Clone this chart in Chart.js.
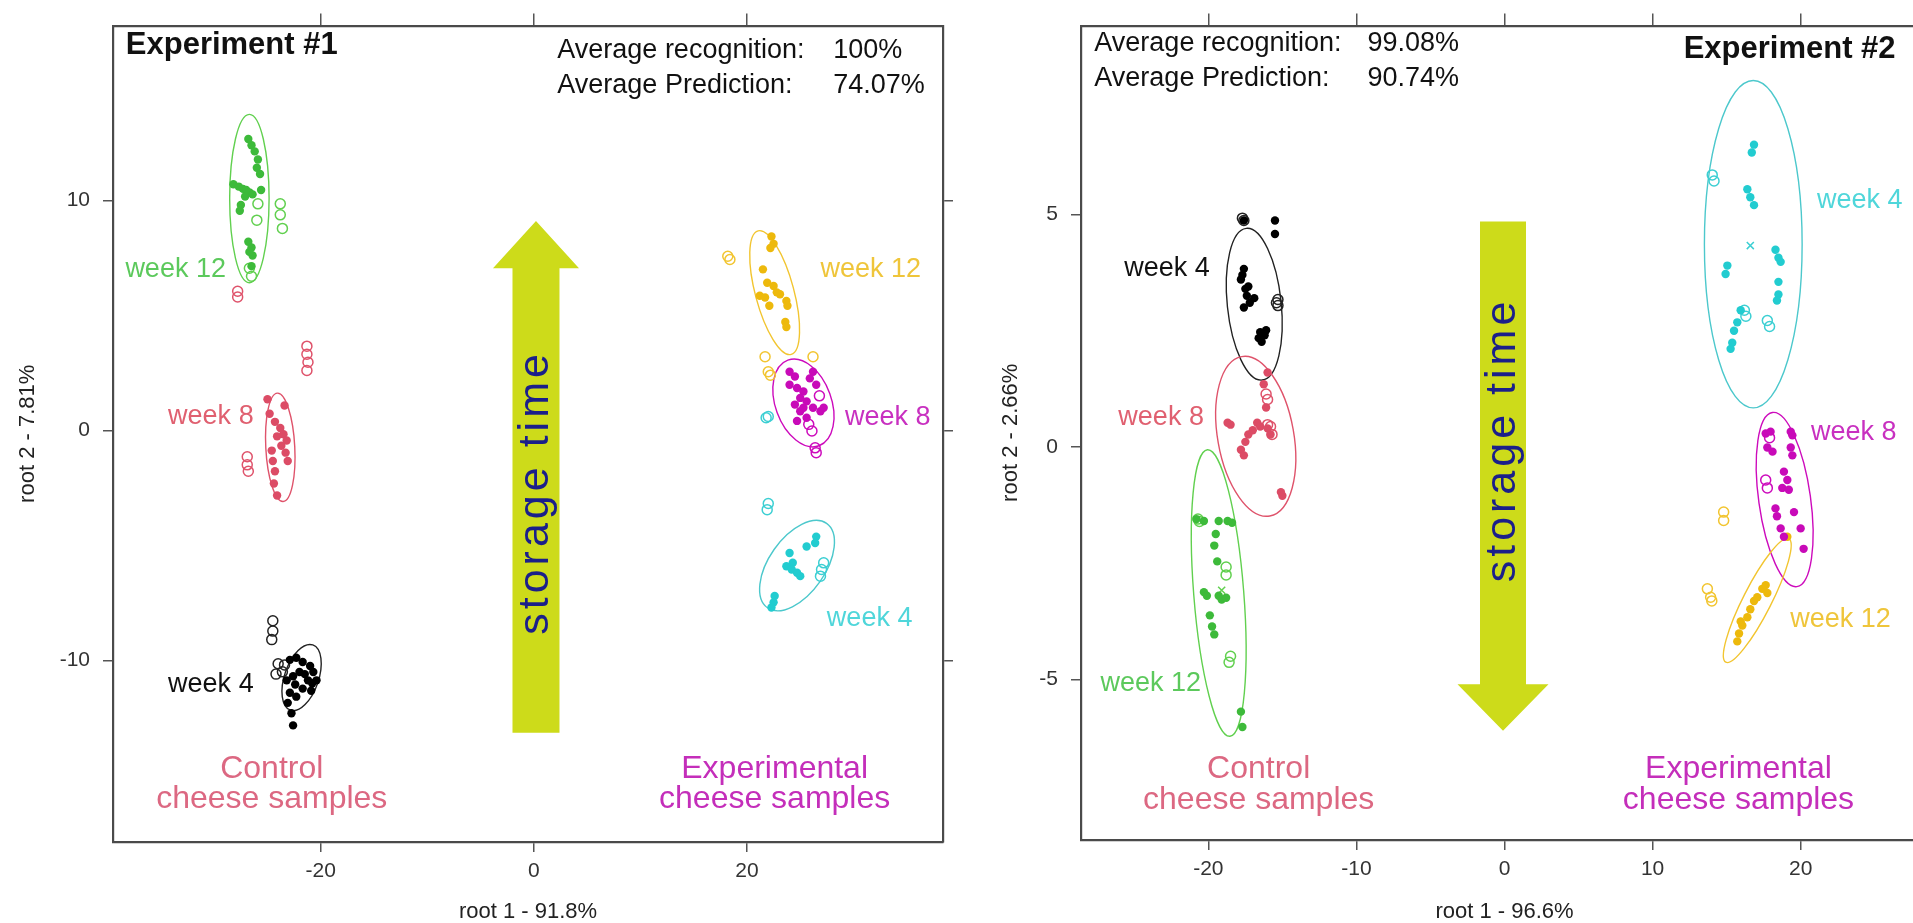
<!DOCTYPE html>
<html>
<head>
<meta charset="utf-8">
<title>Cheese samples – discriminant analysis</title>
<script src="https://cdn.jsdelivr.net/npm/chart.js@4.4.1/dist/chart.umd.min.js"></script>
<style>
  html, body { margin: 0; padding: 0; background: #fff; overflow: hidden; width: 1913px; height: 923px; }
  canvas { position: absolute; top: 0; }
  #exp1 { left: 0; }
  #exp2 { left: 960px; }
</style>
</head>
<body>
<canvas id="exp1" width="960" height="923"></canvas>
<canvas id="exp2" width="985" height="923"></canvas>
<script>
// ---------- Experiment #1 : scores [root 1, root 2] ----------
// filled = training samples, open = predicted samples
const e1W12CtrlFit = [[-26.8,12.67],[-26.5,12.4],[-26.2,12.13],[-25.9,11.78],[-26.0,11.42],[-25.7,11.15],[-28.2,10.7],[-27.7,10.6],[-27.3,10.5],[-27.0,10.45],[-26.7,10.35],[-26.4,10.26],[-25.6,10.45],[-27.1,10.17],[-27.5,9.8],[-27.6,9.55],[-26.8,8.2],[-26.5,7.95],[-26.4,7.6],[-26.7,7.76],[-26.5,7.14]];
const e1W12CtrlPred = [[-23.8,9.85],[-23.8,9.37],[-23.6,8.78],[-25.9,9.85],[-26.0,9.14],[-26.7,7.05],[-26.5,6.7]];
const e1W8CtrlFit = [[-25.0,1.35],[-23.4,1.08],[-24.8,0.72],[-24.3,0.37],[-23.8,0.10],[-23.5,-0.17],[-23.2,-0.44],[-24.1,-0.26],[-23.7,-0.67],[-23.3,-0.97],[-23.1,-1.33],[-24.6,-0.88],[-24.5,-1.33],[-24.3,-1.78],[-24.4,-2.31],[-24.1,-2.83]];
const e1W8CtrlPred = [[-26.9,-1.15],[-26.9,-1.5],[-26.8,-1.78],[-21.3,3.66],[-21.3,3.31],[-21.2,2.96],[-21.3,2.6],[-27.8,6.05],[-27.8,5.8]];
const e1W4CtrlFit = [[-22.9,-9.98],[-22.3,-9.89],[-21.7,-10.07],[-21.0,-10.25],[-20.7,-10.51],[-20.4,-10.87],[-21.2,-10.87],[-22.0,-10.51],[-22.6,-10.69],[-23.2,-10.87],[-22.4,-11.05],[-21.7,-11.23],[-20.9,-11.32],[-22.9,-11.41],[-22.3,-11.58],[-23.1,-11.85],[-22.75,-12.3],[-22.6,-12.83],[-21.5,-10.6],[-20.8,-11.0]];
const e1W4CtrlPred = [[-24.5,-8.28],[-24.5,-8.73],[-24.6,-9.1],[-24.0,-10.15],[-23.6,-10.5],[-23.4,-10.2],[-24.2,-10.6]];
const e1W12ExpFit = [[22.3,8.43],[22.5,8.11],[22.2,7.93],[21.5,7.0],[21.9,6.42],[22.5,6.28],[21.2,5.85],[21.7,5.78],[23.1,5.92],[23.7,5.63],[23.8,5.42],[22.1,5.42],[22.8,6.0],[23.6,4.71],[23.7,4.49]];
const e1W12ExpPred = [[18.4,7.43],[18.2,7.57],[21.7,3.2],[22.0,2.55],[22.2,2.4],[26.2,3.2]];
const e1W8ExpFit = [[24.0,2.55],[24.5,2.34],[24.0,1.98],[24.7,1.84],[25.3,1.69],[25.9,2.26],[26.2,2.55],[26.5,1.98],[25.0,1.41],[25.6,1.26],[24.5,1.12],[25.0,0.83],[26.2,0.98],[26.9,0.83],[27.2,0.98],[24.7,0.41],[25.6,0.55],[25.3,0.98]];
const e1W8ExpPred = [[25.8,0.26],[26.1,-0.03],[26.4,-0.76],[26.5,-0.97],[26.8,1.5]];
const e1W4ExpFit = [[26.5,-4.62],[26.4,-4.9],[25.6,-5.05],[24.0,-5.33],[24.3,-5.76],[23.7,-5.91],[24.2,-6.05],[24.7,-6.19],[25.0,-6.34],[22.6,-7.2],[22.5,-7.48],[22.3,-7.7]];
const e1W4ExpPred = [[22.0,0.6],[21.8,0.55],[22.0,-3.18],[21.9,-3.45],[27.2,-5.76],[27.0,-6.05],[26.9,-6.34]];
// group ellipses: [centre root 1, centre root 2, half-width (root 1), half-height (root 2), tilt in degrees]
const e1Ellipses = {
  w12Ctrl: [-26.7, 10.08, 1.85, 3.66, 0],
  w8Ctrl:  [-23.8, -0.74, 1.36, 2.36, -3],
  w4Ctrl:  [-21.8, -10.75, 1.6, 1.5, 19],
  w12Exp:  [22.6, 5.99, 1.81, 2.78, -15],
  w8Exp:   [25.3, 1.19, 2.63, 1.98, -20],
  w4Exp:   [24.7, -5.88, 2.63, 2.24, 35]
};
const e1XTicks = [-20, 0, 20];
const e1YTicks = [-10, 0, 10];

// ---------- Experiment #2 ----------
const e2W4CtrlFit = [[-17.6,4.87],[-15.5,4.87],[-15.5,4.58],[-17.6,3.83],[-17.8,3.6],[-17.5,3.4],[-17.4,3.25],[-17.2,3.1],[-17.6,3.0],[-16.9,3.2],[-16.6,2.34],[-16.5,2.47],[-16.1,2.51],[-16.4,2.26],[-16.2,2.4],[-17.7,3.7],[-17.3,3.45]];
const e2W4CtrlPred = [[-17.6,4.87],[-17.7,4.92],[-15.3,3.17],[-15.3,3.04],[-15.4,3.1]];
const e2W8CtrlFit = [[-16.0,1.6],[-16.26,1.35],[-16.1,0.85],[-18.7,0.52],[-18.5,0.48],[-16.7,0.52],[-17.0,0.36],[-17.3,0.27],[-17.5,0.11],[-17.8,-0.06],[-17.6,-0.18],[-16.5,0.44],[-16.0,0.4],[-15.8,0.27],[-15.1,-0.97],[-15.0,-1.05]];
const e2W8CtrlPred = [[-16.1,1.14],[-16.0,1.02],[-16.0,0.48],[-15.8,0.44],[-15.7,0.27]];
const e2W12CtrlFit = [[-20.8,-1.55],[-20.3,-1.59],[-19.3,-1.59],[-18.7,-1.59],[-18.4,-1.63],[-19.5,-1.87],[-19.6,-2.12],[-19.4,-2.46],[-20.3,-3.12],[-20.1,-3.2],[-19.3,-3.2],[-19.1,-3.28],[-18.8,-3.24],[-19.9,-3.62],[-19.75,-3.86],[-19.6,-4.03],[-17.8,-5.69],[-17.7,-6.02]];
const e2W12CtrlPred = [[-20.7,-1.55],[-20.6,-1.6],[-18.8,-2.58],[-18.8,-2.75],[-18.5,-4.5],[-18.6,-4.63]];
const e2W4ExpFit = [[16.85,6.5],[16.7,6.33],[16.4,5.54],[16.6,5.37],[16.85,5.2],[18.3,4.24],[18.5,4.07],[18.65,3.98],[15.05,3.9],[14.93,3.72],[18.5,3.55],[18.5,3.28],[18.4,3.15],[15.95,2.94],[15.72,2.68],[15.5,2.5],[15.38,2.24],[15.27,2.11]];
const e2W4ExpPred = [[14.03,5.85],[14.15,5.72],[16.2,2.94],[16.3,2.81],[17.75,2.72],[17.9,2.59]];
const e2W8ExpFit = [[17.64,0.29],[17.97,0.33],[17.75,-0.01],[18.1,-0.1],[19.33,0.33],[19.44,0.25],[19.33,-0.01],[19.44,-0.18],[18.87,-0.53],[19.1,-0.71],[18.76,-0.88],[19.2,-0.92],[18.3,-1.32],[18.4,-1.49],[19.55,-1.4],[18.65,-1.75],[20.0,-1.75],[20.2,-2.19],[18.87,-1.93]];
const e2W8ExpPred = [[17.64,-0.71],[17.75,-0.88],[17.9,0.2]];
const e2W12ExpFit = [[17.41,-3.05],[17.64,-2.97],[17.07,-3.23],[16.85,-3.31],[16.6,-3.49],[16.4,-3.66],[16.06,-3.84],[15.84,-4.01],[15.72,-4.18],[15.95,-3.75],[17.75,-3.14],[19.1,-1.93]];
const e2W12ExpPred = [[14.8,-1.4],[14.8,-1.58],[13.7,-3.05],[13.92,-3.23],[14.0,-3.31]];
const e2Centroids = { w4Exp: [16.6, 4.33], w12Ctrl: [-19.1, -3.08] };
const e2Ellipses = {
  w4Ctrl:  [-16.9, 3.07, 1.82, 1.64, -6],
  w8Ctrl:  [-16.8, 0.23, 2.57, 1.74, -10],
  w12Ctrl: [-19.3, -3.14, 1.69, 3.09, -4.5],
  w4Exp:   [16.8, 4.36, 3.3, 3.52, 0],
  w8Exp:   [18.92, -1.13, 1.75, 1.89, -8],
  w12Exp:  [17.07, -3.3, 0.95, 1.49, 27]
};
const e2XTicks = [-20, -10, 0, 10, 20];
const e2YTicks = [-5, 0, 5];

// ---------- styling ----------
const FONT = '"Liberation Sans", Arial, Helvetica, sans-serif';
const COL = {
  black: '#000000', red: '#DC4C66', green: '#3DBA3A', cyan: '#22CCD0', magenta: '#C80AB8', yellow: '#EDB90C'
};
const RING = {
  black: '#222222', red: '#DF536B', green: '#61D04F', cyan: '#3CCFD3', magenta: '#CD0BBC', yellow: '#F2C530'
};
const LABEL = {
  black: '#111111', red: '#E06070', green: '#5CC95C', cyan: '#4FD6DA', magenta: '#C830C0', yellow: '#EFC53A',
  control: '#DC6882', experimental: '#C42EBA'
};

const pts = arr => arr.map(p => ({ x: p[0], y: p[1] }));
const filled = (arr, c) => ({ data: pts(arr), pointRadius: 4.2, pointBackgroundColor: c, pointBorderWidth: 0, pointHoverRadius: 4.2 });
const open = (arr, c) => ({ data: pts(arr), pointRadius: 5, pointBackgroundColor: 'rgba(0,0,0,0)', pointBorderColor: c, pointBorderWidth: 1.5, pointHoverRadius: 5 });
const cross = (p, c) => ({ data: pts([p]), pointStyle: 'crossRot', pointRadius: 5, pointBorderColor: c, pointBorderWidth: 1.5 });

// ellipses, arrow and free text are drawn in data units through the chart scales
function overlayPlugin(ellipses, arrow, texts) {
  return {
    id: 'overlay',
    beforeDatasetsDraw(chart) {
      const { ctx, chartArea: a, scales: { x, y } } = chart;
      ctx.save();
      ctx.beginPath(); ctx.rect(a.left, a.top, a.right - a.left, a.bottom - a.top); ctx.clip();
      // storage-time arrow
      const cx = x.getPixelForValue(arrow.at);
      const yt = y.getPixelForValue(arrow.tail), yb = y.getPixelForValue(arrow.base), yp = y.getPixelForValue(arrow.tip);
      ctx.fillStyle = '#CDDB1A';
      ctx.beginPath();
      ctx.moveTo(cx - arrow.shaft, yt); ctx.lineTo(cx - arrow.shaft, yb); ctx.lineTo(cx - arrow.head, yb);
      ctx.lineTo(cx, yp); ctx.lineTo(cx + arrow.head, yb); ctx.lineTo(cx + arrow.shaft, yb); ctx.lineTo(cx + arrow.shaft, yt);
      ctx.closePath(); ctx.fill();
      // group ellipses
      ctx.lineWidth = 1.4;
      for (const e of ellipses) {
        const [ex, ey, rx, ry, tilt] = e.p;
        const px = x.getPixelForValue(ex), py = y.getPixelForValue(ey);
        const rpx = Math.abs(x.getPixelForValue(ex + rx) - px), rpy = Math.abs(y.getPixelForValue(ey + ry) - py);
        ctx.strokeStyle = e.c;
        ctx.beginPath(); ctx.ellipse(px, py, rpx, rpy, tilt * Math.PI / 180, 0, 2 * Math.PI); ctx.stroke();
      }
      ctx.restore();
    },
    afterDatasetsDraw(chart) {
      const { ctx, scales: { x, y } } = chart;
      for (const t of texts) {
        ctx.save();
        ctx.font = (t.bold ? 'bold ' : '') + t.size + 'px ' + FONT;
        ctx.fillStyle = t.color; ctx.textAlign = t.align || 'left'; ctx.textBaseline = 'middle';
        if (t.spacing) ctx.letterSpacing = t.spacing + 'px';
        ctx.translate(x.getPixelForValue(t.x), y.getPixelForValue(t.y));
        if (t.rot) ctx.rotate(t.rot * Math.PI / 180);
        ctx.fillText(t.text, 0, 0);
        ctx.restore();
      }
    }
  };
}

function axes(xr, yr, xt, yt, xTitle, yTitle, leftW, bottomH, yTitlePad) {
  const grid = { drawOnChartArea: false, drawTicks: true, tickLength: 10, color: '#555', lineWidth: 1.5 };
  const border = { display: true, color: '#4a4a4a', width: 2.2 };
  const tickFont = { family: FONT, size: 21 };
  const titleFont = { family: FONT, size: 22, lineHeight: 1 };
  const setTicks = list => s => { s.ticks = list.map(v => ({ value: v })); };
  return {
    x: { type: 'linear', position: 'bottom', min: xr[0], max: xr[1], afterBuildTicks: setTicks(xt), afterFit: s => { s.height = bottomH; },
         grid, border, ticks: { padding: 7, color: '#333', font: tickFont },
         title: { display: true, text: xTitle, color: '#222', font: titleFont, padding: { top: 0, bottom: 0 } } },
    xTop: { type: 'linear', position: 'top', min: xr[0], max: xr[1], afterBuildTicks: setTicks(xt), afterFit: s => { s.height = 17; },
         grid: Object.assign({}, grid, { tickLength: 12 }), border, ticks: { display: false } },
    y: { type: 'linear', position: 'left', min: yr[0], max: yr[1], afterBuildTicks: setTicks(yt), afterFit: s => { s.width = leftW; },
         grid, border, ticks: { padding: 13, color: '#333', font: tickFont },
         title: { display: true, text: yTitle, color: '#222', font: titleFont, padding: { top: yTitlePad, bottom: 0 } } },
    yRight: { type: 'linear', position: 'right', min: yr[0], max: yr[1], afterBuildTicks: setTicks(yt), afterFit: s => { s.width = 17; },
         grid, border, ticks: { display: false } }
  };
}

const baseOpts = { responsive: false, animation: false, events: [], layout: { padding: 0 },
  plugins: { legend: { display: false }, tooltip: { enabled: false } } };

function weekText(text, x, y, color, align) { return { text, x, y, color, align, size: 27 }; }

// ---------- Experiment #1 chart ----------
new Chart(document.getElementById('exp1'), {
  type: 'scatter',
  data: { datasets: [
    filled(e1W12CtrlFit, COL.green), open(e1W12CtrlPred, RING.green),
    filled(e1W8CtrlFit, COL.red), open(e1W8CtrlPred, RING.red),
    filled(e1W4CtrlFit, COL.black), open(e1W4CtrlPred, RING.black),
    filled(e1W12ExpFit, COL.yellow), open(e1W12ExpPred, RING.yellow),
    filled(e1W8ExpFit, COL.magenta), open(e1W8ExpPred, RING.magenta),
    filled(e1W4ExpFit, COL.cyan), open(e1W4ExpPred, RING.cyan)
  ] },
  options: Object.assign({}, baseOpts, {
    scales: axes([-39.5, 38.4], [-17.9, 17.6], e1XTicks, e1YTicks, 'root 1 - 91.8%', 'root 2 - 7.81%', 113, 81, 17)
  }),
  plugins: [overlayPlugin(
    [
      { p: e1Ellipses.w12Ctrl, c: RING.green }, { p: e1Ellipses.w8Ctrl, c: RING.red }, { p: e1Ellipses.w4Ctrl, c: RING.black },
      { p: e1Ellipses.w12Exp, c: RING.yellow }, { p: e1Ellipses.w8Exp, c: RING.magenta }, { p: e1Ellipses.w4Exp, c: '#4CC8CC' }
    ],
    { at: 0.2, tail: -13.15, base: 7.05, tip: 9.1, shaft: 23.5, head: 43 },
    [
      { text: 'Experiment #1', x: -38.3, y: 16.75, color: '#111', size: 31, bold: true },
      { text: 'Average recognition:', x: 2.2, y: 16.5, color: '#111', size: 27 },
      { text: '100%', x: 28.1, y: 16.5, color: '#111', size: 27 },
      { text: 'Average Prediction:', x: 2.2, y: 15.0, color: '#111', size: 27 },
      { text: '74.07%', x: 28.1, y: 15.0, color: '#111', size: 27 },
      weekText('week 12', -28.9, 7.0, LABEL.green, 'right'),
      weekText('week 8', -26.3, 0.6, LABEL.red, 'right'),
      weekText('week 4', -26.3, -11.05, LABEL.black, 'right'),
      weekText('week 12', 26.9, 7.0, LABEL.yellow, 'left'),
      weekText('week 8', 29.2, 0.56, LABEL.magenta, 'left'),
      weekText('week 4', 27.5, -8.2, LABEL.cyan, 'left'),
      { text: 'Control', x: -24.6, y: -14.75, color: LABEL.control, size: 32, align: 'center' },
      { text: 'cheese samples', x: -24.6, y: -16.05, color: LABEL.control, size: 32, align: 'center' },
      { text: 'Experimental', x: 22.6, y: -14.75, color: LABEL.experimental, size: 32, align: 'center' },
      { text: 'cheese samples', x: 22.6, y: -16.05, color: LABEL.experimental, size: 32, align: 'center' },
      { text: 'storage time', x: 0.2, y: -2.7, color: '#1B1F8A', size: 43, align: 'center', rot: -90, spacing: 4 }
    ]
  )]
});

// ---------- Experiment #2 chart ----------
new Chart(document.getElementById('exp2'), {
  type: 'scatter',
  data: { datasets: [
    filled(e2W4CtrlFit, COL.black), open(e2W4CtrlPred, RING.black),
    filled(e2W8CtrlFit, COL.red), open(e2W8CtrlPred, RING.red),
    filled(e2W12CtrlFit, COL.green), open(e2W12CtrlPred, RING.green), cross(e2Centroids.w12Ctrl, RING.green),
    filled(e2W4ExpFit, COL.cyan), open(e2W4ExpPred, RING.cyan), cross(e2Centroids.w4Exp, RING.cyan),
    filled(e2W8ExpFit, COL.magenta), open(e2W8ExpPred, RING.magenta),
    filled(e2W12ExpFit, COL.yellow), open(e2W12ExpPred, RING.yellow)
  ] },
  options: Object.assign({}, baseOpts, {
    scales: axes([-28.6, 28.6], [-8.45, 9.06], e2XTicks, e2YTicks, 'root 1 - 96.6%', 'root 2 - 2.66%', 121, 83, 40)
  }),
  plugins: [overlayPlugin(
    [
      { p: e2Ellipses.w4Ctrl, c: RING.black }, { p: e2Ellipses.w8Ctrl, c: RING.red }, { p: e2Ellipses.w12Ctrl, c: RING.green },
      { p: e2Ellipses.w4Exp, c: '#4CC8CC' }, { p: e2Ellipses.w8Exp, c: RING.magenta }, { p: e2Ellipses.w12Exp, c: RING.yellow }
    ],
    { at: -0.1, tail: 4.85, base: -5.1, tip: -6.1, shaft: 23, head: 45.5 },
    [
      { text: 'Average recognition:', x: -27.7, y: 8.68, color: '#111', size: 27 },
      { text: '99.08%', x: -9.26, y: 8.68, color: '#111', size: 27 },
      { text: 'Average Prediction:', x: -27.7, y: 7.93, color: '#111', size: 27 },
      { text: '90.74%', x: -9.26, y: 7.93, color: '#111', size: 27 },
      { text: 'Experiment #2', x: 12.1, y: 8.55, color: '#111', size: 31, bold: true },
      weekText('week 4', -19.9, 3.83, LABEL.black, 'right'),
      weekText('week 8', -20.3, 0.64, LABEL.red, 'right'),
      weekText('week 12', -20.5, -5.08, LABEL.green, 'right'),
      weekText('week 4', 21.1, 5.3, LABEL.cyan, 'left'),
      weekText('week 8', 20.7, 0.32, LABEL.magenta, 'left'),
      weekText('week 12', 19.3, -3.72, LABEL.yellow, 'left'),
      { text: 'Control', x: -16.6, y: -6.93, color: LABEL.control, size: 32, align: 'center' },
      { text: 'cheese samples', x: -16.6, y: -7.6, color: LABEL.control, size: 32, align: 'center' },
      { text: 'Experimental', x: 15.8, y: -6.93, color: LABEL.experimental, size: 32, align: 'center' },
      { text: 'cheese samples', x: 15.8, y: -7.6, color: LABEL.experimental, size: 32, align: 'center' },
      { text: 'storage time', x: -0.1, y: 0.15, color: '#1B1F8A', size: 43, align: 'center', rot: -90, spacing: 4 }
    ]
  )]
});
</script>
</body>
</html>
